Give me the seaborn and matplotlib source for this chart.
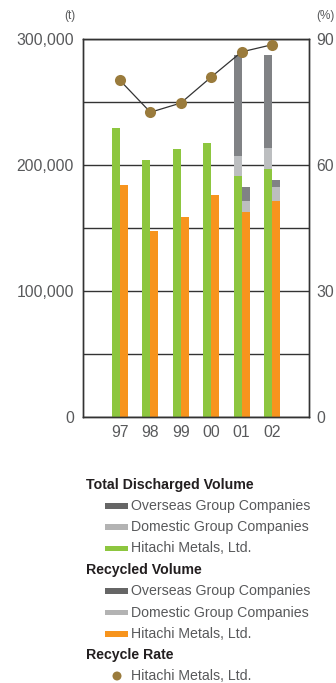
import numpy as np
import pandas as pd
import matplotlib
matplotlib.use("Agg")
import matplotlib.pyplot as plt
from matplotlib.patches import Rectangle, Ellipse
import seaborn as sns

# Fiscal years
years = ["97", "98", "99", "00", "01", "02"]

# Total discharged volume (t)
disch_hitachi = [229500, 204000, 213000, 217300, 191400, 196900]
disch_domestic = [0, 0, 0, 0, 16000, 16700]
disch_overseas = [0, 0, 0, 0, 80200, 73900]

# Recycled volume (t)
recyc_hitachi = [184200, 147600, 158800, 176200, 163000, 171500]
recyc_domestic = [0, 0, 0, 0, 8500, 11100]
recyc_overseas = [0, 0, 0, 0, 11100, 5600]

# Recycle rate, Hitachi Metals (%)
recycle_rate = [80.2, 72.6, 74.8, 81.0, 87.0, 88.7]

left_ticks = [0, 100000, 200000, 300000]
left_labels = ["0", "100,000", "200,000", "300,000"]
right_ticks = [0, 30, 60, 90]

GREEN = "#8dc63f"
ORANGE = "#f7941d"
DARK = "#808285"
LIGHT = "#bcbec0"
DOT = "#9a7b3c"
TEXT = "#58595b"
LINE = "#333333"

sns.set_style("white")
plt.rcParams["font.family"] = ["Liberation Sans", "DejaVu Sans"]

W, H = 336, 683
fig = plt.figure(figsize=(W / 100, H / 100), dpi=100)


def fx(px):
    return px / W


def fy(py):
    return 1 - py / H


ax = fig.add_axes([fx(82.7), fy(416.7), (308.7 - 82.7) / W, (416.7 - 39.3) / H])

pos = np.arange(len(years))
kinds = ["Total", "Recycled"]


def frame(a, b):
    return pd.DataFrame({
        "pos": np.concatenate([pos, pos]),
        "kind": ["Total"] * len(years) + ["Recycled"] * len(years),
        "value": np.concatenate([np.asarray(a, float), np.asarray(b, float)]),
    })


cum_top = frame(np.add(np.add(disch_hitachi, disch_domestic), disch_overseas),
                np.add(np.add(recyc_hitachi, recyc_domestic), recyc_overseas))
cum_mid = frame(np.add(disch_hitachi, disch_domestic),
                np.add(recyc_hitachi, recyc_domestic))
base = frame(disch_hitachi, recyc_hitachi)

common = dict(x="pos", y="value", hue="kind", hue_order=kinds, native_scale=True,
              width=0.526, errorbar=None, legend=False, saturation=1,
              linewidth=0, ax=ax)
sns.barplot(data=cum_top, palette={"Total": DARK, "Recycled": DARK}, **common)
sns.barplot(data=cum_mid, palette={"Total": LIGHT, "Recycled": LIGHT}, **common)
sns.barplot(data=base, palette={"Total": GREEN, "Recycled": ORANGE}, **common)

ax.set_xlim(-1.227, 6.207)
ax.set_ylim(0, 300000)
ax.set_yticks(left_ticks)
ax.set_yticklabels(left_labels)
ax.set_yticks(np.arange(0, 300001, 50000), minor=True)
ax.set_xticks(pos)
ax.set_xticklabels(years)
ax.set_xlabel("")
ax.set_ylabel("")
ax.set_axisbelow(True)
ax.grid(True, which="both", axis="y", color=LINE, linewidth=1.0)
ax.tick_params(axis="both", which="both", length=0, labelsize=11.3, colors=TEXT)
ax.tick_params(axis="y", pad=6.3)
ax.tick_params(axis="x", pad=6)
for s in ax.spines.values():
    s.set_color(LINE)
    s.set_linewidth(1.0)

# Recycle rate on the right axis
ax2 = ax.twinx()
rate_df = pd.DataFrame({"pos": pos, "rate": recycle_rate})
sns.lineplot(data=rate_df, x="pos", y="rate", color=LINE, linewidth=0.9, ax=ax2)
sns.scatterplot(data=rate_df, x="pos", y="rate", color=DOT, s=64, linewidth=0,
                ax=ax2, zorder=5)
ax2.set_ylim(0, 90)
ax2.set_yticks(right_ticks)
ax2.set_ylabel("")
ax2.set_xlabel("")
ax2.tick_params(axis="y", length=0, labelsize=11.3, colors=TEXT, pad=5.3)
ax2.grid(False)
for s in ax2.spines.values():
    s.set_color(LINE)
    s.set_linewidth(1.0)
ax.set_xlim(-1.227, 6.207)

# Unit labels
fig.text(fx(69.5), fy(16), "(t)", ha="center", va="center", fontsize=8.5, color=TEXT)
fig.text(fx(325.5), fy(16), "(%)", ha="center", va="center", fontsize=8.5, color=TEXT)

# Legend block
HEAD = "#231f20"
FS = 10.2


def header(y, s):
    fig.text(fx(86), fy(y), s, ha="left", va="center", fontsize=FS,
             fontweight="bold", color=HEAD)


def swatch(y, color, s):
    fig.add_artist(Rectangle((fx(105), fy(y + 2.6)), (127.7 - 105) / W, 5.2 / H,
                             transform=fig.transFigure, facecolor=color,
                             edgecolor="none"))
    fig.text(fx(130.7), fy(y), s, ha="left", va="center", fontsize=FS, color=TEXT)


header(484.5, "Total Discharged Volume")
swatch(506, "#666666", "Overseas Group Companies")
swatch(527, "#b3b3b3", "Domestic Group Companies")
swatch(548.5, GREEN, "Hitachi Metals, Ltd.")
header(570, "Recycled Volume")
swatch(591, "#666666", "Overseas Group Companies")
swatch(612.5, "#b3b3b3", "Domestic Group Companies")
swatch(634, ORANGE, "Hitachi Metals, Ltd.")
header(655, "Recycle Rate")
fig.add_artist(Ellipse((fx(117), fy(676)), 9 / W, 9 / H, transform=fig.transFigure,
                       facecolor=DOT, edgecolor="none"))
fig.text(fx(130.7), fy(676), "Hitachi Metals, Ltd.", ha="left", va="center",
         fontsize=FS, color=TEXT)

fig.savefig("out.png", dpi=100)
